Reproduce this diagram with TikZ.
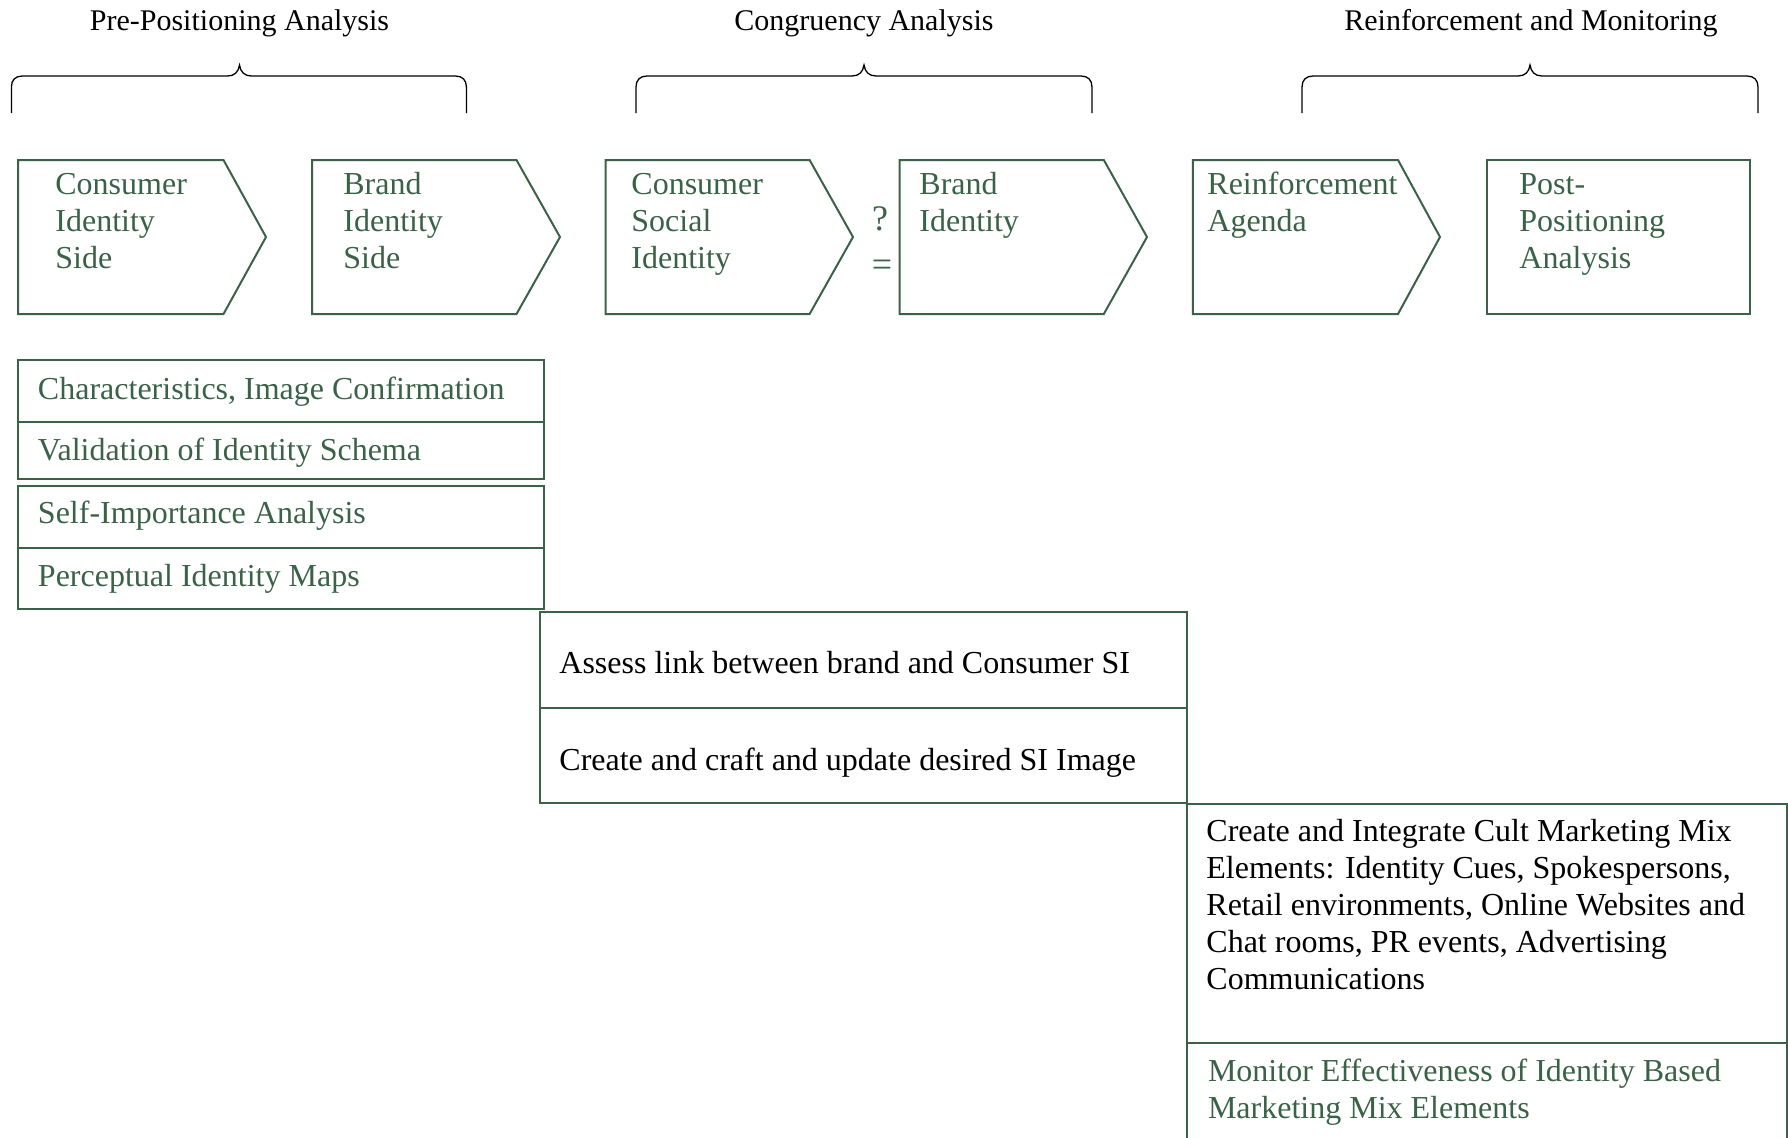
\documentclass[tikz,border=0pt]{standalone}
\usepackage{fontspec}
\setmainfont{Liberation Serif}
\definecolor{boxgreen}{RGB}{58,98,70}
\begin{document}
\begin{tikzpicture}[x=0.5pt,y=0.5pt,yscale=-1,xscale=1,
  gline/.style={draw=boxgreen,line width=1pt},
  brace/.style={draw=black,line width=0.65pt},
  gtext/.style={anchor=base west,inner sep=0pt,align=left,text=boxgreen,font=\fontsize{16}{18.5}\selectfont},
  ktext/.style={gtext,text=black},
  heading/.style={anchor=base,inner sep=0pt,font=\fontsize{15}{18}\selectfont},
  relsign/.style={anchor=base,inner sep=0pt,text=boxgreen,font=\fontsize{18}{20}\selectfont}]
\useasboundingbox (0,0) rectangle (1788,1137);
%set at the baseline of the last text line

%Shape: Brace [id:pre]
\draw [brace] (11.4,113) -- (11.4,87) .. controls (11.4,80) and (15.4,76) .. (22.4,76) -- (227.5,76) .. controls (234.5,76) and (238.5,72) .. (239.5,65) .. controls (240.5,72) and (244.5,76) .. (251.5,76) -- (455.4,76) .. controls (462.4,76) and (466.4,80) .. (466.4,87) -- (466.4,113) ;
%Shape: Brace [id:congr]
\draw [brace] (636,113) -- (636,87) .. controls (636,80) and (640,76) .. (647,76) -- (852,76) .. controls (859,76) and (863,72) .. (864,65) .. controls (865,72) and (869,76) .. (876,76) -- (1081,76) .. controls (1088,76) and (1092,80) .. (1092,87) -- (1092,113) ;
%Shape: Brace [id:reinf]
\draw [brace] (1302,113) -- (1302,87) .. controls (1302,80) and (1306,76) .. (1313,76) -- (1518,76) .. controls (1525,76) and (1529,72) .. (1530,65) .. controls (1531,72) and (1535,76) .. (1542,76) -- (1747,76) .. controls (1754,76) and (1758,80) .. (1758,87) -- (1758,113) ;

% Text Node
\draw (239.5,30) node [heading] (tpre) {Pre-Positioning Analysis};
% Text Node
\draw (864,30) node [heading] (tcongr) {Congruency Analysis};
% Text Node
\draw (1531,30) node [heading] (treinf) {Reinforcement and Monitoring};

%Shape: Chevron [id:consid]
\draw [gline] (18,160) -- (223.5,160) -- (266,237) -- (223.5,314) -- (18,314) -- cycle ;
%Shape: Chevron [id:brandid]
\draw [gline] (312,160) -- (516.5,160) -- (560,237) -- (516.5,314) -- (312,314) -- cycle ;
%Shape: Chevron [id:socid]
\draw [gline] (605.5,160) -- (809.6,160) -- (853,237) -- (809.6,314) -- (605.5,314) -- cycle ;
%Shape: Chevron [id:brandid2]
\draw [gline] (899.7,160) -- (1103.8,160) -- (1147,237) -- (1103.8,314) -- (899.7,314) -- cycle ;
%Shape: Chevron [id:agenda]
\draw [gline] (1192.8,160) -- (1398,160) -- (1440,237) -- (1398,314) -- (1192.8,314) -- cycle ;
%Shape: Rectangle [id:postpos]
\draw [gline] (1487,160) rectangle (1750,314) ;

% Text Node
\draw (55,268) node [gtext] (consid) {Consumer\\Identity\\Side};
% Text Node
\draw (343,268) node [gtext] (brandid) {Brand\\Identity\\Side};
% Text Node
\draw (631,268) node [gtext] (socid) {Consumer\\Social\\Identity};
% Text Node
\draw (919,231) node [gtext] (brandid2) {Brand\\Identity};
% Text Node
\draw (1207,231) node [gtext] (agenda) {Reinforcement\\Agenda};
% Text Node
\draw (1519,268) node [gtext] (postpos) {Post-\\Positioning\\Analysis};
% Text Node
\draw (880,230) node [relsign] (quest) {?};
% Text Node
\draw (882,276) node [relsign] (equal) {=};

%Shape: Rectangle [id:charac]
\draw [gline] (18,360) rectangle (544,422) ;
%Shape: Rectangle [id:valid]
\draw [gline] (18,422) rectangle (544,479) ;
%Shape: Rectangle [id:selfimp]
\draw [gline] (18,486) rectangle (544,548) ;
%Shape: Rectangle [id:percep]
\draw [gline] (18,548) rectangle (544,609) ;

% Text Node
\draw (37.6,399) node [gtext] (charac) {Characteristics, Image Confirmation};
% Text Node
\draw (37.6,460) node [gtext] (valid) {Validation of Identity Schema};
% Text Node
\draw (37.6,523) node [gtext] (selfimp) {Self-Importance Analysis};
% Text Node
\draw (37.6,586) node [gtext] (percep) {Perceptual Identity Maps};

%Shape: Rectangle [id:assess]
\draw [gline] (540,612) rectangle (1187,708) ;
%Shape: Rectangle [id:craft]
\draw [gline] (540,708) rectangle (1187,803) ;

% Text Node
\draw (559,673) node [ktext] (assess) {Assess link between brand and Consumer SI};
% Text Node
\draw (559,770) node [ktext] (craft) {Create and craft and update desired SI Image};

%Shape: Rectangle [id:mix]
\draw [gline] (1187,804) rectangle (1787,1043) ;
%Shape: Rectangle [id:monitor]
\draw [gline] (1187,1043) rectangle (1787,1200) ;

% Text Node
\draw (1206,989) node [ktext] (mix) {Create and Integrate Cult Marketing Mix\\Elements: Identity Cues, Spokespersons,\\Retail environments, Online Websites and\\Chat rooms, PR events, Advertising\\Communications};
% Text Node
\draw (1207.6,1118) node [gtext] (monitor) {Monitor Effectiveness of Identity Based\\Marketing Mix Elements};

\end{tikzpicture}
\end{document}
